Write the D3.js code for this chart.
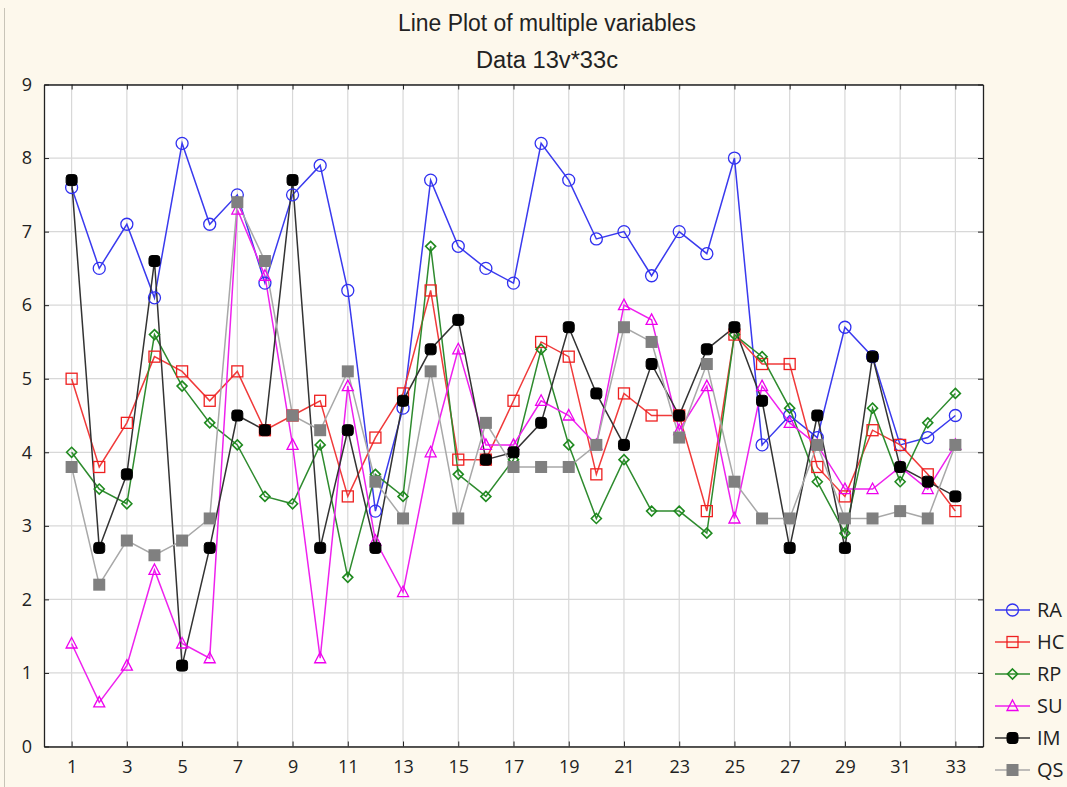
<!DOCTYPE html>
<html><head><meta charset="utf-8">
<script src="https://cdn.jsdelivr.net/npm/d3@7"></script>
<style>html,body{margin:0;padding:0;background:#fdf8ec;}svg{display:block}</style>
</head><body>
<svg id="chart" width="1067" height="787"></svg>
<script>
const cases = d3.range(1, 34);
const xTickLabels = d3.range(1, 34, 2);
const yTickLabels = d3.range(0, 10);
const seriesNames = ["RA", "HC", "RP", "SU", "IM", "QS"];
const RA = [7.6,6.5,7.1,6.1,8.2,7.1,7.5,6.3,7.5,7.9,6.2,3.2,4.6,7.7,6.8,6.5,6.3,8.2,7.7,6.9,7.0,6.4,7.0,6.7,8.0,4.1,4.5,4.2,5.7,5.3,4.1,4.2,4.5];
const HC = [5.0,3.8,4.4,5.3,5.1,4.7,5.1,4.3,4.5,4.7,3.4,4.2,4.8,6.2,3.9,3.9,4.7,5.5,5.3,3.7,4.8,4.5,4.5,3.2,5.6,5.2,5.2,3.8,3.4,4.3,4.1,3.7,3.2];
const RP = [4.0,3.5,3.3,5.6,4.9,4.4,4.1,3.4,3.3,4.1,2.3,3.7,3.4,6.8,3.7,3.4,3.9,5.4,4.1,3.1,3.9,3.2,3.2,2.9,5.6,5.3,4.6,3.6,2.9,4.6,3.6,4.4,4.8];
const SU = [1.4,0.6,1.1,2.4,1.4,1.2,7.3,6.4,4.1,1.2,4.9,2.8,2.1,4.0,5.4,4.1,4.1,4.7,4.5,4.1,6.0,5.8,4.3,4.9,3.1,4.9,4.4,4.1,3.5,3.5,3.8,3.5,4.1];
const IM = [7.7,2.7,3.7,6.6,1.1,2.7,4.5,4.3,7.7,2.7,4.3,2.7,4.7,5.4,5.8,3.9,4.0,4.4,5.7,4.8,4.1,5.2,4.5,5.4,5.7,4.7,2.7,4.5,2.7,5.3,3.8,3.6,3.4];
const QS = [3.8,2.2,2.8,2.6,2.8,3.1,7.4,6.6,4.5,4.3,5.1,3.6,3.1,5.1,3.1,4.4,3.8,3.8,3.8,4.1,5.7,5.5,4.2,5.2,3.6,3.1,3.1,4.1,3.1,3.1,3.2,3.1,4.1];
const seriesValues = [RA, HC, RP, SU, IM, QS];

const styles = {
  RA: {line: "#3a3aee", stroke: "#3030f0", fill: "none", shape: "circle"},
  HC: {line: "#f03a3a", stroke: "#ee2020", fill: "none", shape: "square"},
  RP: {line: "#2e8b2e", stroke: "#1f8a1f", fill: "none", shape: "diamond"},
  SU: {line: "#ee22ee", stroke: "#ee00ee", fill: "none", shape: "triangle"},
  IM: {line: "#333333", stroke: "#000000", fill: "#000000", shape: "round"},
  QS: {line: "#a8a8a8", stroke: "#808080", fill: "#808080", shape: "bigsquare"}
};

const svg = d3.select("#chart");
svg.append("rect").attr("width",1067).attr("height",787).attr("fill","#fdf8ec");
svg.append("line").attr("x1",4.5).attr("x2",4.5).attr("y1",8).attr("y2",787).attr("stroke","#c8c4b8");

const L = 44, R = 983, T = 84.5, B = 746.5;
const x = d3.scaleLinear().domain([0, 34]).range([L, R]);
const y = d3.scaleLinear().domain([0, 9]).range([B, T]);

svg.append("rect").attr("x",L).attr("y",T).attr("width",R-L).attr("height",B-T).attr("fill","#ffffff");

const g = svg.append("g");
g.selectAll(".vg").data(xTickLabels).join("line")
  .attr("x1",d=>x(d)).attr("x2",d=>x(d)).attr("y1",T).attr("y2",B)
  .attr("stroke","#d8d8d8").attr("stroke-width",1.2);
g.selectAll(".hg").data(yTickLabels).join("line")
  .attr("x1",L).attr("x2",R).attr("y1",d=>y(d)).attr("y2",d=>y(d))
  .attr("stroke","#d8d8d8").attr("stroke-width",1.2);

const axB = svg.append("g").attr("transform",`translate(0,${B})`)
  .call(d3.axisBottom(x).tickValues(xTickLabels).tickSizeInner(-5).tickSizeOuter(0).tickPadding(14));
const axT = svg.append("g").attr("transform",`translate(0,${T})`)
  .call(d3.axisTop(x).tickValues(xTickLabels).tickSizeInner(-5).tickSizeOuter(0).tickFormat(""));
const axL = svg.append("g").attr("transform",`translate(${L},0)`)
  .call(d3.axisLeft(y).tickValues(yTickLabels).tickSizeInner(-5).tickSizeOuter(0).tickPadding(12).tickFormat(d3.format("d")));
const axR = svg.append("g").attr("transform",`translate(${R},0)`)
  .call(d3.axisRight(y).tickValues(yTickLabels).tickSizeInner(-5).tickSizeOuter(0).tickFormat(""));
[axB,axT,axL,axR].forEach(a=>{
  a.select(".domain").attr("stroke","#222").attr("stroke-width",1.3);
  a.selectAll(".tick line").attr("stroke","#222");
  a.selectAll("text").attr("font-family","'Open Sans', 'Noto Sans', sans-serif").attr("font-size",18).attr("fill","#222");
});

const line = d3.line().x((d,i)=>x(cases[i])).y(d=>y(d));

function marker(sel, shape, st) {
  if (shape === "circle") {
    sel.append("circle").attr("r",6).attr("fill",st.fill).attr("stroke",st.stroke).attr("stroke-width",1.3);
  } else if (shape === "square") {
    sel.append("rect").attr("x",-5.5).attr("y",-5.5).attr("width",11).attr("height",11).attr("fill",st.fill).attr("stroke",st.stroke).attr("stroke-width",1.3);
  } else if (shape === "diamond") {
    sel.append("path").attr("d","M0,-5L5,0L0,5L-5,0Z").attr("fill",st.fill).attr("stroke",st.stroke).attr("stroke-width",1.6);
  } else if (shape === "triangle") {
    sel.append("path").attr("d","M0,-6L5.5,4.5L-5.5,4.5Z").attr("fill",st.fill).attr("stroke",st.stroke).attr("stroke-width",1.3);
  } else if (shape === "round") {
    sel.append("rect").attr("x",-5.5).attr("y",-5.5).attr("width",11).attr("height",11).attr("rx",3).attr("fill",st.fill).attr("stroke",st.stroke).attr("stroke-width",1);
  } else {
    sel.append("rect").attr("x",-6).attr("y",-6).attr("width",12).attr("height",12).attr("fill",st.fill).attr("stroke","none");
  }
}

const plot = svg.append("g");
seriesNames.forEach((name, si) => {
  const st = styles[name];
  plot.append("path").datum(seriesValues[si]).attr("d",line).attr("fill","none").attr("stroke",st.line).attr("stroke-width",1.5);
});
seriesNames.forEach((name, si) => {
  const st = styles[name];
  plot.selectAll(null).data(seriesValues[si]).join("g")
    .attr("transform",(d,i)=>`translate(${x(cases[i])},${y(d)})`)
    .each(function(){ marker(d3.select(this), st.shape, st); });
});

// title
const tf = "'Liberation Sans Narrow','Arial Narrow','Liberation Sans',sans-serif";
svg.append("text").attr("x",547).attr("y",31).attr("text-anchor","middle")
  .attr("font-family",tf).attr("font-size",23).attr("fill","#222")
  .attr("textLength",298).attr("lengthAdjust","spacingAndGlyphs")
  .text("Line Plot of multiple variables");
svg.append("text").attr("x",547).attr("y",68).attr("text-anchor","middle")
  .attr("font-family",tf).attr("font-size",23).attr("fill","#222")
  .attr("textLength",142).attr("lengthAdjust","spacingAndGlyphs")
  .text("Data 13v*33c");

// legend
const lg = svg.append("g");
seriesNames.forEach((name, i) => {
  const st = styles[name];
  const yy = 610 + i * 32;
  lg.append("line").attr("x1",995).attr("x2",1030).attr("y1",yy).attr("y2",yy).attr("stroke",st.line).attr("stroke-width",1.5);
  const m = lg.append("g").attr("transform",`translate(1012.5,${yy})`);
  marker(m, st.shape, st);
  lg.append("text").attr("x",1037).attr("y",yy+7).attr("font-family","'Open Sans','Noto Sans',sans-serif")
    .attr("font-size",20).attr("fill","#222").text(name);
});
</script>
</body></html>
